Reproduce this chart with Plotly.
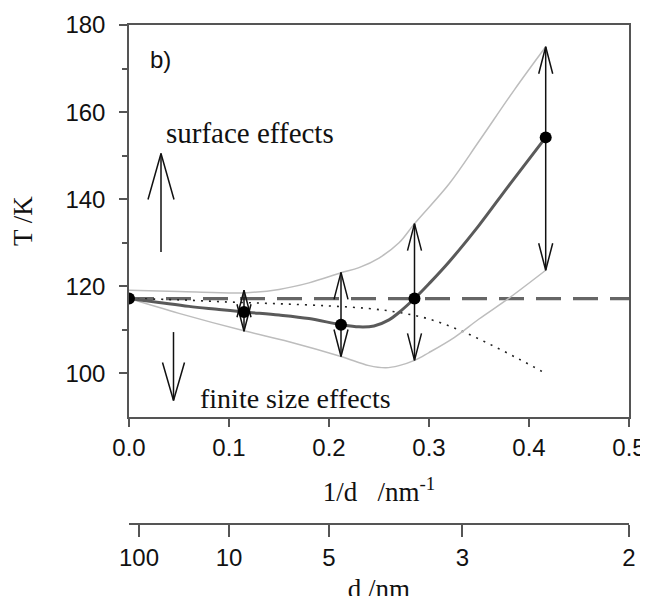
import plotly.graph_objects as go

# ---------------- data ----------------
inv_d_pts = [0.0, 0.115, 0.212, 0.2855, 0.4167]          # 1/d  (nm^-1)
T_pts = [117.2, 114.1, 111.2, 117.2, 154.2]              # T (K)

main_x = [0.0, 0.03, 0.06, 0.09, 0.115, 0.15, 0.18, 0.212, 0.23, 0.245, 0.26, 0.27, 0.2855,
          0.30, 0.32, 0.35, 0.38, 0.4167]
main_T = [117.2, 116.3, 115.4, 114.7, 114.1, 113.4, 112.6, 111.2, 110.7, 110.9, 112.3, 114.0, 117.2,
          120.6, 125.6, 134.0, 143.2, 154.2]

upper_x = [0.0, 0.05, 0.1, 0.115, 0.15, 0.18, 0.212, 0.23, 0.25, 0.27, 0.2855, 0.32, 0.35, 0.385, 0.4167]
upper_T = [119.1, 118.8, 118.5, 118.5, 119.3, 120.8, 123.1, 124.3, 126.5, 130.0, 134.4, 143.5, 153.3, 165.0, 175.0]

lower_x = [0.0, 0.05, 0.115, 0.16, 0.212, 0.24, 0.257, 0.27, 0.2855, 0.30, 0.3255, 0.35, 0.38, 0.4167]
lower_T = [117.2, 113.8, 109.8, 107.3, 103.9, 101.8, 101.3, 101.8, 103.0, 104.8, 108.3, 112.5, 117.3, 123.7]

dotted_x = [0.0, 0.05, 0.1, 0.15, 0.2, 0.24, 0.27, 0.3, 0.33, 0.36, 0.39, 0.4167]
dotted_T = [117.2, 116.9, 116.4, 116.0, 115.5, 114.9, 114.0, 112.5, 110.0, 106.8, 103.3, 100.0]

bulk_x = [0.0, 0.5]
bulk_T = [117.2, 117.2]

err_x = [0.115, 0.212, 0.2855, 0.4167]
err_low = [109.7, 103.9, 103.0, 123.7]
err_high = [119.1, 123.2, 134.4, 175.0]

surface_arrow = dict(x=0.032, start=127.9, end=150.5)
finite_arrow = dict(x=0.0445, start=109.5, end=93.8)

x_ticks = [0.0, 0.1, 0.2, 0.3, 0.4, 0.5]
x_tick_labels = ["0.0", "0.1", "0.2", "0.3", "0.4", "0.5"]
y_ticks = [100, 120, 140, 160, 180]
y_minor = [110, 130, 150, 170]
d_ticks = [100, 10, 5, 3, 2]                              # d (nm) on the lower axis

# ---------------- geometry (page body has an 8px margin) ----------------
W, H = 640, 596
ML, MR, MT, MB = 121, 19, 17, 80
X_RANGE = [0.0, 0.5]
Y_RANGE = [90, 180]
Y_DOMAIN0 = 0.2144
PX_W = W - ML - MR
PX_H = (H - MT - MB) * (1 - Y_DOMAIN0)
UX = (X_RANGE[1] - X_RANGE[0]) / PX_W      # data units per pixel
UY = (Y_RANGE[1] - Y_RANGE[0]) / PX_H


def arrow_path(x, y_from, y_to, head_px, half_px, both=False):
    dx = half_px * UX
    dy = head_px * UY
    xs = [x, x, None]
    ys = [y_from, y_to, None]
    heads = [(y_to, 1 if y_to > y_from else -1)]
    if both:
        heads.append((y_from, 1 if y_from > y_to else -1))
    for tip, sgn in heads:
        xs += [x - dx, x, x + dx, None]
        ys += [tip - sgn * dy, tip, tip - sgn * dy, None]
    return xs, ys


fig = go.Figure()

# bulk value (dashed)
fig.add_trace(go.Scatter(x=bulk_x, y=bulk_T, mode="lines",
                         line=dict(color="#666666", width=3.2, dash="25px,12px"),
                         hoverinfo="skip", showlegend=False))
# finite-size dotted curve
fig.add_trace(go.Scatter(x=dotted_x, y=dotted_T, mode="lines", line_shape="spline",
                         line=dict(color="#222222", width=1.6, dash="2px,6px"),
                         hoverinfo="skip", showlegend=False))
# upper / lower bounds
fig.add_trace(go.Scatter(x=upper_x, y=upper_T, mode="lines", line_shape="spline",
                         line=dict(color="#bdbdbd", width=1.5), hoverinfo="skip", showlegend=False))
fig.add_trace(go.Scatter(x=lower_x, y=lower_T, mode="lines", line_shape="spline",
                         line=dict(color="#bdbdbd", width=1.5), hoverinfo="skip", showlegend=False))
# main curve
fig.add_trace(go.Scatter(x=main_x, y=main_T, mode="lines", line_shape="spline",
                         line=dict(color="#5a5a5a", width=3), hoverinfo="skip", showlegend=False))

# error arrows (double headed)
ax, ay = [], []
for x, lo, hi in zip(err_x, err_low, err_high):
    xs, ys = arrow_path(x, lo, hi, 27, 7, both=True)
    ax += xs
    ay += ys
fig.add_trace(go.Scatter(x=ax, y=ay, mode="lines", line=dict(color="#111111", width=1.5),
                         hoverinfo="skip", showlegend=False))

# big effect arrows
for arr, hp, hw in [(surface_arrow, 46, 13), (finite_arrow, 38, 11)]:
    xs, ys = arrow_path(arr["x"], arr["start"], arr["end"], hp, hw)
    fig.add_trace(go.Scatter(x=xs, y=ys, mode="lines", line=dict(color="#111111", width=1.5),
                             hoverinfo="skip", showlegend=False))

# data points
fig.add_trace(go.Scatter(x=inv_d_pts, y=T_pts, mode="markers",
                         marker=dict(color="black", size=12), hoverinfo="skip", showlegend=False))
# anchor trace for the d axis
fig.add_trace(go.Scatter(x=inv_d_pts, y=T_pts, xaxis="x2", yaxis="y", mode="markers",
                         marker=dict(opacity=0), hoverinfo="skip", showlegend=False))

SERIF = "Liberation Serif, Times New Roman, serif"
SANS = "Liberation Sans, Arial, Helvetica, sans-serif"
AX_COL = "#555555"

fig.add_annotation(x=0.035, y=155.2, xref="x", yref="y", text="surface effects", showarrow=False,
                   xanchor="left", yanchor="middle", font=dict(family=SERIF, size=29, color="#111"))
fig.add_annotation(x=0.069, y=94.3, xref="x", yref="y", text="finite size effects", showarrow=False,
                   xanchor="left", yanchor="middle", font=dict(family=SERIF, size=28, color="#111"))
fig.add_annotation(x=0.019, y=172, xref="x", yref="y", text="b)", showarrow=False,
                   xanchor="left", yanchor="middle", font=dict(family=SANS, size=24, color="#111"))

fig.update_layout(
    width=W, height=H,
    margin=dict(l=ML, r=MR, t=MT, b=MB, autoexpand=False),
    paper_bgcolor="white", plot_bgcolor="white",
    xaxis=dict(range=X_RANGE, domain=[0, 1], anchor="y",
               tickvals=x_ticks, ticktext=x_tick_labels,
               ticks="outside", ticklen=8, tickwidth=1.5, tickcolor=AX_COL,
               showline=True, linecolor=AX_COL, linewidth=1.5, mirror=True,
               showgrid=False, zeroline=False,
               tickfont=dict(family=SANS, size=24, color="#111"),
               title=dict(text="1/d\u00a0\u00a0\u00a0/nm<sup>-1</sup>", standoff=23,
                          font=dict(family=SERIF, size=27, color="#111"))),
    yaxis=dict(range=Y_RANGE, domain=[Y_DOMAIN0, 1], anchor="x",
               tickvals=y_ticks, ticks="outside", ticklen=8, tickwidth=1.5, tickcolor=AX_COL,
               minor=dict(tickvals=y_minor, ticks="outside", ticklen=5, tickwidth=1.5, tickcolor=AX_COL),
               showline=True, linecolor=AX_COL, linewidth=1.5, mirror=True,
               showgrid=False, zeroline=False, ticklabelstandoff=9,
               tickfont=dict(family=SANS, size=24, color="#111"),
               title=dict(text="T /K", standoff=27,
                          font=dict(family=SERIF, size=27, color="#111"))),
    xaxis2=dict(range=X_RANGE, overlaying="x", anchor="free", position=0, side="bottom",
                tickvals=[1.0 / d for d in d_ticks], ticktext=[str(d) for d in d_ticks],
                ticks="outside", ticklen=12, tickwidth=1.5, tickcolor=AX_COL,
                showline=True, linecolor=AX_COL, linewidth=1.5,
                showgrid=False, zeroline=False,
                tickfont=dict(family=SANS, size=24, color="#111"),
                title=dict(text="d /nm", standoff=20,
                           font=dict(family=SERIF, size=27, color="#111"))),
)

fig.write_html("out.html")
